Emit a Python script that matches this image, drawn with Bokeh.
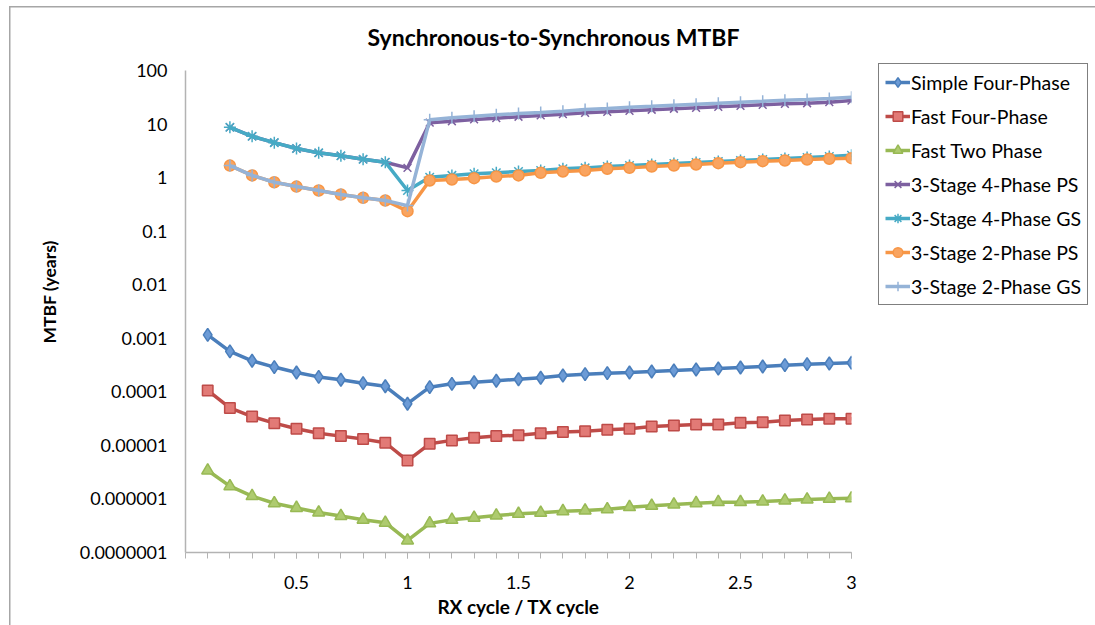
from bokeh.embed import file_html
from bokeh.models import FixedTicker, Legend, LegendItem, Range1d, Title
from bokeh.plotting import figure
from bokeh.resources import INLINE

NaN = float("nan")

# RX cycle / TX cycle ratio
ratio = [0.1, 0.2, 0.3, 0.4, 0.5, 0.6, 0.7, 0.8, 0.9, 1.0,
         1.1, 1.2, 1.3, 1.4, 1.5, 1.6, 1.7, 1.8, 1.9, 2.0,
         2.1, 2.2, 2.3, 2.4, 2.5, 2.6, 2.7, 2.8, 2.9, 3.0]

# MTBF in years for each synchronizer design
simple_four_phase = [1.16e-3, 5.7e-4, 3.8e-4, 2.9e-4, 2.3e-4, 1.9e-4, 1.68e-4, 1.45e-4, 1.27e-4, 6.0e-5,
                     1.22e-4, 1.41e-4, 1.51e-4, 1.61e-4, 1.72e-4, 1.83e-4, 2.02e-4, 2.14e-4, 2.23e-4, 2.30e-4,
                     2.40e-4, 2.50e-4, 2.61e-4, 2.73e-4, 2.85e-4, 2.97e-4, 3.15e-4, 3.28e-4, 3.38e-4, 3.49e-4]
fast_four_phase = [1.06e-4, 5.0e-5, 3.46e-5, 2.6e-5, 2.04e-5, 1.69e-5, 1.49e-5, 1.31e-5, 1.12e-5, 5.2e-6,
                   1.07e-5, 1.24e-5, 1.39e-5, 1.49e-5, 1.55e-5, 1.69e-5, 1.77e-5, 1.84e-5, 1.95e-5, 2.04e-5,
                   2.25e-5, 2.35e-5, 2.46e-5, 2.46e-5, 2.64e-5, 2.71e-5, 2.92e-5, 3.05e-5, 3.14e-5, 3.14e-5]
fast_two_phase = [3.4e-6, 1.73e-6, 1.13e-6, 8.3e-7, 6.8e-7, 5.6e-7, 4.8e-7, 4.1e-7, 3.6e-7, 1.68e-7,
                  3.5e-7, 4.08e-7, 4.45e-7, 4.91e-7, 5.28e-7, 5.52e-7, 5.91e-7, 6.09e-7, 6.44e-7, 7.03e-7,
                  7.46e-7, 7.89e-7, 8.34e-7, 8.71e-7, 8.71e-7, 8.97e-7, 9.37e-7, 9.78e-7, 1.01e-6, 1.03e-6]
stage3_four_phase_ps = [NaN, 8.7, 5.9, 4.5, 3.5, 2.9, 2.55, 2.2, 1.94, 1.52,
                        10.6, 11.3, 12.2, 12.9, 13.7, 14.5, 15.3, 16.2, 16.9, 17.7,
                        18.5, 19.3, 20.1, 21.0, 21.9, 22.9, 23.9, 24.5, 25.6, 27.5]
stage3_four_phase_gs = [NaN, 8.7, 5.9, 4.5, 3.5, 2.9, 2.55, 2.2, 1.94, 0.575,
                        1.02, 1.10, 1.18, 1.23, 1.30, 1.36, 1.46, 1.52, 1.61, 1.68,
                        1.76, 1.84, 1.92, 2.00, 2.09, 2.18, 2.28, 2.38, 2.48, 2.62]
stage3_two_phase_ps = [NaN, 1.68, 1.10, 0.82, 0.68, 0.575, 0.484, 0.42, 0.374, 0.236,
                       0.883, 0.923, 0.976, 1.05, 1.10, 1.23, 1.30, 1.36, 1.46, 1.52,
                       1.61, 1.68, 1.76, 1.86, 1.94, 2.03, 2.09, 2.18, 2.25, 2.31]
stage3_two_phase_gs = [NaN, 1.68, 1.10, 0.82, 0.68, 0.575, 0.484, 0.42, 0.374, 0.30,
                       12.0, 13.1, 14.0, 14.9, 15.7, 16.4, 17.4, 18.7, 19.5, 20.7,
                       21.5, 22.5, 23.5, 24.5, 25.6, 26.7, 27.9, 28.7, 30.0, 31.7]

series_names = ["Simple Four-Phase", "Fast Four-Phase", "Fast Two Phase",
                "3-Stage 4-Phase PS", "3-Stage 4-Phase GS",
                "3-Stage 2-Phase PS", "3-Stage 2-Phase GS"]

y_ticks = [1e-7, 1e-6, 1e-5, 1e-4, 1e-3, 1e-2, 1e-1, 1, 10, 100]
y_tick_labels = ["0.0000001", "0.000001", "0.00001", "0.0001", "0.001",
                 "0.01", "0.1", "1", "10", "100"]
x_ticks = [0.5, 1, 1.5, 2, 2.5, 3]
x_tick_labels = ["0.5", "1", "1.5", "2", "2.5", "3"]

FONT = "Lato"
AXIS_GRAY = "#b3b3b3"
BORDER_GRAY = "#a6a6a6"

p = figure(frame_width=666, frame_height=482,
           min_border_left=185, min_border_right=244,
           min_border_top=70, min_border_bottom=73,
           x_range=Range1d(0, 3), y_range=Range1d(1e-7, 100),
           y_axis_type="log", output_backend="svg", toolbar_location=None)
p.background_fill_color = "white"
p.border_fill_alpha = 0
p.outline_line_color = None
p.xgrid.visible = False
p.ygrid.visible = False

# chart-area border along the top and left edges, drawn behind the canvas
p.styles = {
    "background": (f"linear-gradient({BORDER_GRAY},{BORDER_GRAY}) 9px 6px / 1.5px 100% no-repeat, "
                   f"linear-gradient({BORDER_GRAY},{BORDER_GRAY}) 9px 6px / 100% 1.5px no-repeat, white"),
}

# title
p.title.text = "Synchronous-to-Synchronous MTBF"
p.title.align = "left"
p.title.offset = 182
p.title.standoff = 40
p.title.text_font = FONT
p.title.text_font_style = "bold"
p.title.text_font_size = "23px"
p.title.text_color = "black"

# x axis: labels every 0.5, tick marks every 0.1
xa = p.xaxis[0]
xa.ticker = FixedTicker(ticks=x_ticks, minor_ticks=[i / 10 for i in range(31)])
xa.major_label_overrides = dict(zip(x_ticks, x_tick_labels))
xa.axis_line_color = AXIS_GRAY
xa.axis_line_width = 1.5
xa.major_tick_line_color = AXIS_GRAY
xa.minor_tick_line_color = AXIS_GRAY
xa.major_tick_in = 0
xa.major_tick_out = 6
xa.minor_tick_in = 0
xa.minor_tick_out = 6
xa.major_label_standoff = 17
xa.major_label_text_font = FONT
xa.major_label_text_font_size = "18px"
xa.major_label_text_color = "black"
xa.axis_label = "RX cycle / TX cycle"
xa.axis_label_standoff = 3
xa.axis_label_text_font = FONT
xa.axis_label_text_font_style = "bold"
xa.axis_label_text_font_size = "19px"
xa.axis_label_text_color = "black"

# y axis: decades written out in full
ya = p.yaxis[0]
ya.ticker = FixedTicker(ticks=y_ticks, minor_ticks=[])
ya.major_label_overrides = dict(zip(y_ticks, y_tick_labels))
ya.axis_line_color = AXIS_GRAY
ya.axis_line_width = 1.5
ya.major_tick_in = 0
ya.major_tick_out = 0
ya.minor_tick_in = 0
ya.minor_tick_out = 0
ya.major_label_standoff = 18
ya.major_label_text_font = FONT
ya.major_label_text_font_size = "18px"
ya.major_label_text_color = "black"

# y-axis title sits a little above the middle of the axis
p.add_layout(Title(text="MTBF (years)", align="left", offset=209, standoff=34,
                   text_font=FONT, text_font_style="bold", text_font_size="17.5px",
                   text_color="black"), "left")

styles = [
    dict(data=simple_four_phase, color="#4a7ebb", marker="diamond", fill="#6c9bd6", size=13),
    dict(data=fast_four_phase, color="#be4b48", marker="square", fill="#e27a76", size=10.5),
    dict(data=fast_two_phase, color="#98b954", marker="triangle", fill="#aecb6f", size=12),
    dict(data=stage3_four_phase_ps, color="#7d60a0", marker="x", fill="#7d60a0", size=11),
    dict(data=stage3_four_phase_gs, color="#46aac5", marker="asterisk", fill="#46aac5", size=12),
    dict(data=stage3_two_phase_ps, color="#f79646", marker="circle", fill="#f9a460", size=11),
    dict(data=stage3_two_phase_gs, color="#95b3d7", marker="cross", fill="#95b3d7", size=12),
]

items = []
for name, s in zip(series_names, styles):
    ln = p.line(ratio, s["data"], line_color=s["color"], line_width=3.5)
    sc = p.scatter(ratio, s["data"], marker=s["marker"], size=s["size"],
                   fill_color=s["fill"], line_color=s["color"], line_width=1.5)
    items.append(LegendItem(label=name, renderers=[ln, sc]))

legend = Legend(items=items, location=(27, 247))
legend.label_text_font = FONT
legend.label_text_font_size = "19.5px"
legend.label_text_color = "black"
legend.glyph_width = 25
legend.glyph_height = 24
legend.label_height = 24
legend.label_standoff = 1
legend.spacing = 10
legend.padding = 6
legend.margin = 0
legend.border_line_color = "black"
legend.border_line_width = 1
legend.background_fill_color = "white"
legend.background_fill_alpha = 1
p.add_layout(legend, "right")

open("out.html", "w").write(file_html(p, INLINE))
